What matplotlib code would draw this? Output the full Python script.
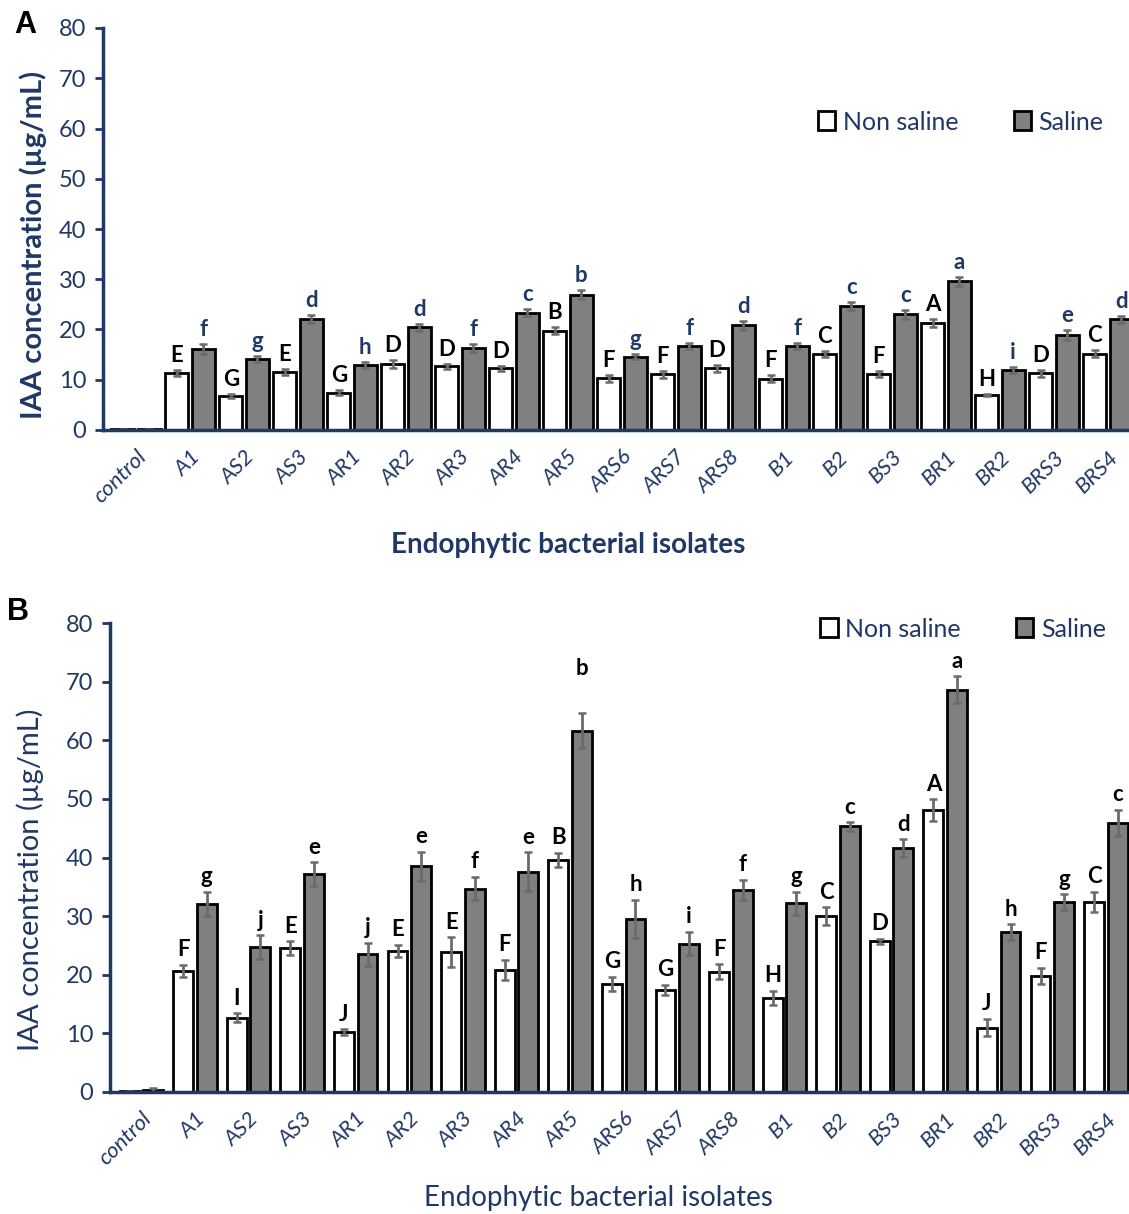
import numpy as np
import matplotlib
matplotlib.use('Agg')
from matplotlib import pyplot as plt
from matplotlib.patches import Patch

#--- data

isolates = ['control', 'A1', 'AS2', 'AS3', 'AR1', 'AR2', 'AR3', 'AR4', 'AR5', 'ARS6',
            'ARS7', 'ARS8', 'B1', 'B2', 'BS3', 'BR1', 'BR2', 'BRS3', 'BRS4']

# panel A
nonsal_A = [0.1, 11.3, 6.8, 11.6, 7.4, 13.2, 12.7, 12.3, 19.8, 10.3,
            11.1, 12.3, 10.2, 15.2, 11.1, 21.2, 6.9, 11.3, 15.2]
nonsal_A_err = [0.1, 0.6, 0.4, 0.6, 0.5, 0.8, 0.5, 0.5, 0.6, 0.7,
                0.7, 0.7, 0.7, 0.6, 0.6, 0.8, 0.2, 0.7, 0.7]
sal_A = [0.1, 16.2, 14.2, 22.1, 13.0, 20.4, 16.3, 23.3, 26.9, 14.6,
         16.7, 20.8, 16.8, 24.6, 23.0, 29.6, 11.9, 18.9, 22.0]
sal_A_err = [0.1, 1.0, 0.6, 0.8, 0.6, 0.7, 0.8, 0.7, 0.9, 0.5,
             0.6, 0.9, 0.6, 0.8, 0.9, 0.9, 0.6, 1.0, 0.7]
let_nonsal_A = ['', 'E', 'G', 'E', 'G', 'D', 'D', 'D', 'B', 'F',
                'F', 'D', 'F', 'C', 'F', 'A', 'H', 'D', 'C']
let_sal_A = ['', 'f', 'g', 'd', 'h', 'd', 'f', 'c', 'b', 'g',
             'f', 'd', 'f', 'c', 'c', 'a', 'i', 'e', 'd']

# panel B
nonsal_B = [0.1, 20.7, 12.7, 24.5, 10.2, 24.1, 23.9, 20.8, 39.6, 18.5,
            17.4, 20.5, 16.1, 30.0, 25.7, 48.1, 11.0, 19.8, 32.4]
nonsal_B_err = [0.1, 1.0, 0.7, 1.2, 0.5, 1.0, 2.5, 1.7, 1.2, 1.2,
                0.9, 1.3, 1.2, 1.5, 0.4, 1.8, 1.5, 1.4, 1.7]
sal_B = [0.3, 32.1, 24.7, 37.2, 23.5, 38.5, 34.7, 37.6, 61.6, 29.5,
         25.3, 34.5, 32.2, 45.3, 41.6, 68.6, 27.3, 32.4, 45.9]
sal_B_err = [0.4, 2.0, 2.0, 2.0, 2.0, 2.5, 2.0, 3.3, 3.0, 3.3,
             2.0, 1.7, 2.0, 0.7, 1.5, 2.3, 1.3, 1.3, 2.2]
let_nonsal_B = ['', 'F', 'I', 'E', 'J', 'E', 'E', 'F', 'B', 'G',
                'G', 'F', 'H', 'C', 'D', 'A', 'J', 'F', 'C']
let_sal_B = ['', 'g', 'j', 'e', 'j', 'e', 'f', 'e', 'b', 'h',
             'i', 'f', 'g', 'c', 'd', 'a', 'h', 'g', 'c']

#--- style

navy = '#1F3864'
font = ['Lato', 'DejaVu Sans']
plt.rcParams['font.family'] = font

W, H = 1129, 1214
fig = plt.figure(figsize=(W / 100, H / 100), dpi=100)


def panel(rect, xlim, nonsal, nonsal_err, sal, sal_err, let_ns, let_s,
          sal_let_color, bold_labels, width, off, leg_anchor, ylab_xy, xlab_xy,
          extra=None):
    ax = fig.add_axes(rect)
    x = np.arange(len(isolates))
    ekw = dict(ecolor='#6b6b6b', elinewidth=2, capsize=3, capthick=1.8)
    ax.bar(x - off, nonsal, width, yerr=nonsal_err, color='white',
           edgecolor='black', linewidth=2, error_kw=ekw, zorder=2)
    ax.bar(x + off, sal, width, yerr=sal_err, color='#808080',
           edgecolor='black', linewidth=2, error_kw=ekw, zorder=2)
    for i in range(len(isolates)):
        if let_ns[i]:
            ax.text(x[i] - off, nonsal[i] + nonsal_err[i] + 0.8, let_ns[i],
                    ha='center', va='bottom', fontsize=16, fontweight='bold',
                    color='black')
        if let_s[i]:
            dy = extra.get(i, 0) if extra else 0
            ax.text(x[i] + off, sal[i] + sal_err[i] + 0.8 + dy, let_s[i],
                    ha='center', va='bottom', fontsize=16, fontweight='bold',
                    color=sal_let_color)
    ax.set_xlim(*xlim)
    ax.set_ylim(0, 80)
    ax.set_yticks(range(0, 81, 10))
    ax.set_xticks(x)
    ax.set_xticklabels(isolates, rotation=45, ha='right', rotation_mode='anchor',
                       fontsize=16, color=navy, style='italic')
    ax.tick_params(axis='x', length=0, pad=12)
    ax.tick_params(axis='y', length=6, width=2, color=navy, labelsize=17,
                   labelcolor=navy, pad=6)
    for s in ['top', 'right']:
        ax.spines[s].set_visible(False)
    for s in ['left', 'bottom']:
        ax.spines[s].set_color(navy)
        ax.spines[s].set_linewidth(2.5)
    fw = 'bold' if bold_labels else 'normal'
    fig.text(ylab_xy[0] / W, 1 - ylab_xy[1] / H, 'IAA concentration (µg/mL)',
             fontsize=21, color=navy, fontweight=fw, rotation=90,
             ha='center', va='center')
    fig.text(xlab_xy[0] / W, 1 - xlab_xy[1] / H, 'Endophytic bacterial isolates',
             fontsize=20, color=navy, fontweight=fw, ha='center', va='center')
    handles = [Patch(facecolor='white', edgecolor='black', linewidth=2, label='Non saline'),
               Patch(facecolor='#808080', edgecolor='black', linewidth=2, label='Saline')]
    leg = ax.legend(handles=handles, loc='center', bbox_to_anchor=leg_anchor, ncol=2,
                    frameon=False, fontsize=18, handlelength=0.7, handleheight=0.8,
                    handletextpad=0.3, columnspacing=2.2)
    for t in leg.get_texts():
        t.set_color(navy)
    return ax


axA = panel([103 / W, 1 - 430 / H, 1 - 103 / W, 402 / H], (-0.611, 18.39),
            nonsal_A, nonsal_A_err, sal_A, sal_A_err, let_nonsal_A, let_sal_A,
            navy, True, 0.42, 0.245, (0.836, 0.766), (33, 245), (568, 545))
axB = panel([110 / W, 1 - 1092 / H, 1 - 110 / W, 469 / H], (-0.586, 18.43),
            nonsal_B, nonsal_B_err, sal_B, sal_B_err, let_nonsal_B, let_sal_B,
            'black', False, 0.37, 0.22, (0.837, 0.987), (30, 880), (598, 1198),
            extra={8: 5.0})

fig.text(25 / W, 1 - 25 / H, 'A', fontsize=22, fontweight='bold',
         ha='center', va='center', family=['Liberation Sans', 'DejaVu Sans'])
fig.text(18 / W, 1 - 612 / H, 'B', fontsize=22, fontweight='bold',
         ha='center', va='center', family=['Liberation Sans', 'DejaVu Sans'])

plt.savefig('out.png', dpi=100)
plt.close()
